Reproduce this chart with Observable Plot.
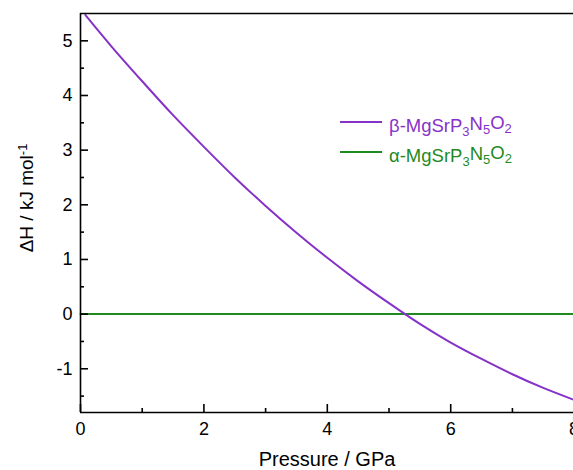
<!DOCTYPE html>
<html>
<head>
<meta charset="utf-8">
<script src="https://cdn.jsdelivr.net/npm/d3@7"></script>
<script src="https://cdn.jsdelivr.net/npm/@observablehq/plot@0.6"></script>
<style>
  html, body { margin: 0; padding: 0; background: #fff; overflow: hidden; }
  #chart { width: 573px; height: 470px; overflow: hidden; }
</style>
</head>
<body>
<div id="chart"></div>
<script>
// Data
const pressure = [0.08, 0.5, 1, 1.5, 2, 2.5, 3, 3.5, 4, 4.5, 5, 5.5, 6, 6.5, 7, 7.5, 8];
const dHBeta   = [5.47, 4.90, 4.26, 3.64, 3.06, 2.50, 1.98, 1.49, 1.03, 0.60, 0.20, -0.18, -0.52, -0.82, -1.10, -1.35, -1.57];
const alphaPressure = [0, 8];
const dHAlpha = [0, 0];

const xMajor = [0, 2, 4, 6, 8];
const xMinor = [1, 3, 5, 7];
const yMajor = [-1, 0, 1, 2, 3, 4, 5];
const yMinor = [-1.5, -0.5, 0.5, 1.5, 2.5, 3.5, 4.5];

const seriesNames = ["β-MgSrP", "α-MgSrP"];
const purple = "#8632c8";
const green = "#1f8a1f";

const beta = pressure.map((p, i) => ({p, h: dHBeta[i]}));
const alpha = alphaPressure.map((p, i) => ({p, h: dHAlpha[i]}));

const font = "'Liberation Sans', Arial, Helvetica, sans-serif";
const plain = d => String(d);

const svg = Plot.plot({
  width: 573,
  height: 470,
  marginLeft: 80,
  marginRight: 0,
  marginTop: 13,
  marginBottom: 58,
  style: {fontFamily: font, fontSize: "18px", color: "#000", background: "#fff", overflow: "hidden"},
  x: {domain: [0, 7.99]},
  y: {domain: [-1.8, 5.5]},
  marks: [
    Plot.line(alpha, {x: "p", y: "h", stroke: green, strokeWidth: 2}),
    Plot.line(beta, {x: "p", y: "h", stroke: purple, strokeWidth: 2, curve: "natural"}),
    Plot.ruleX([0], {stroke: "#000", strokeWidth: 1.6}),
    Plot.ruleY([-1.8, 5.5], {stroke: "#000", strokeWidth: 1.6}),
    Plot.axisX({ticks: xMajor, tickSize: -8, tickPadding: 18, tickFormat: plain, label: null, strokeWidth: 1.6, fontSize: 18}),
    Plot.axisX({ticks: xMinor, tickSize: -4, tickFormat: () => "", label: null, strokeWidth: 1.6}),
    Plot.axisY({ticks: yMajor, tickSize: -8, tickPadding: 16, tickFormat: plain, label: null, strokeWidth: 1.6, fontSize: 18}),
    Plot.axisY({ticks: yMinor, tickSize: -4, tickFormat: () => "", label: null, strokeWidth: 1.6})
  ]
});

const s = d3.select(svg);

// x-axis title
s.append("text")
  .attr("x", 327).attr("y", 466)
  .attr("text-anchor", "middle")
  .style("font-family", font).style("font-size", "20px").attr("fill", "#000")
  .text("Pressure / GPa");

// y-axis title
const yt = s.append("text")
  .attr("transform", "translate(33,198) rotate(-90)")
  .attr("text-anchor", "middle")
  .style("font-family", font).style("font-size", "19px").attr("fill", "#000");
yt.append("tspan").text("ΔH / kJ mol");
yt.append("tspan").attr("dy", "-0.45em").style("font-size", "13px").text("-1");

// legend
const legendItems = [
  {name: seriesNames[0], color: purple, y: 122},
  {name: seriesNames[1], color: green, y: 152}
];
legendItems.forEach(item => {
  s.append("line")
    .attr("x1", 340).attr("x2", 382)
    .attr("y1", item.y).attr("y2", item.y)
    .attr("stroke", item.color).attr("stroke-width", 2);
  const t = s.append("text")
    .attr("x", 389).attr("y", item.y + 10)
    .attr("text-anchor", "start")
    .style("font-family", font).style("font-size", "18.5px").attr("fill", item.color);
  t.append("tspan").text(item.name);
  t.append("tspan").attr("dy", "0.3em").style("font-size", "13px").text("3");
  t.append("tspan").attr("dy", "-0.3em").text("N");
  t.append("tspan").attr("dy", "0.3em").style("font-size", "13px").text("5");
  t.append("tspan").attr("dy", "-0.3em").text("O");
  t.append("tspan").attr("dy", "0.3em").style("font-size", "13px").text("2");
});

document.getElementById("chart").appendChild(svg);
</script>
</body>
</html>
